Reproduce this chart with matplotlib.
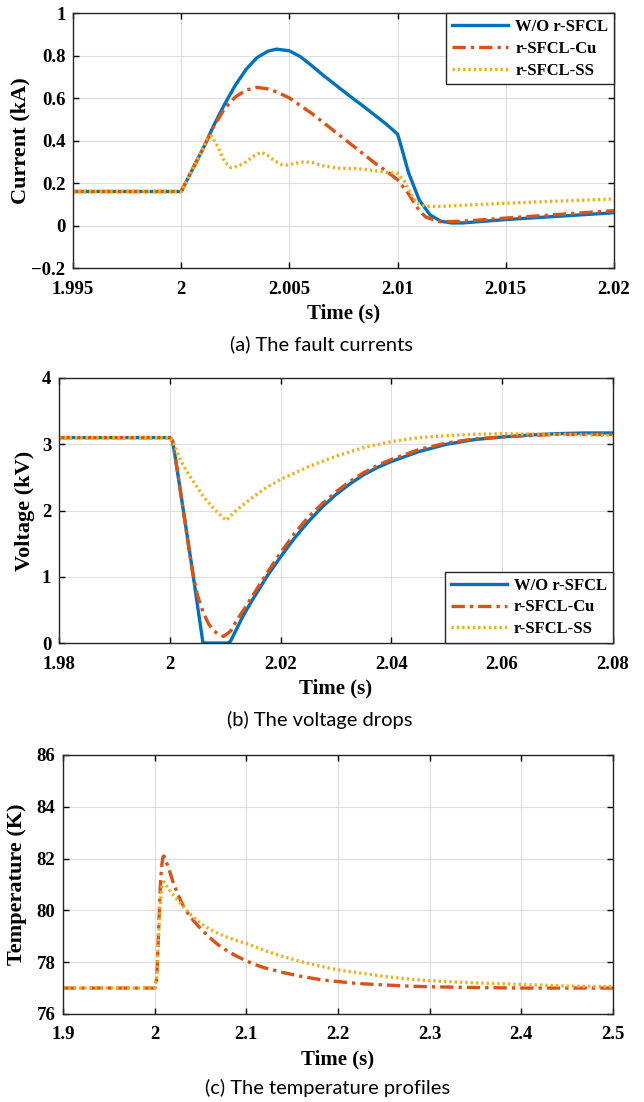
import matplotlib.pyplot as plt

# MATLAB default colours
c_blue = '#0072BD'
c_orange = '#D95319'
c_yellow = '#EDB120'

labels = ['W/O r-SFCL', 'r-SFCL-Cu', 'r-SFCL-SS']

# (a) fault currents (kA)
t_a_wo = [1.995, 2.0, 2.0005, 2.001, 2.0015, 2.002, 2.0025, 2.003, 2.0035, 2.004, 2.0044,
          2.005, 2.0055, 2.006, 2.0065, 2.007, 2.0075, 2.008, 2.0085, 2.009, 2.0095, 2.01,
          2.0102, 2.0105, 2.011, 2.0115, 2.012, 2.0125, 2.013, 2.015, 2.02]
i_a_wo = [0.16, 0.16, 0.26, 0.36, 0.47, 0.57, 0.66, 0.735, 0.79, 0.82, 0.83,
          0.822, 0.795, 0.755, 0.712, 0.672, 0.632, 0.593, 0.555, 0.515, 0.475, 0.43,
          0.36, 0.25, 0.12, 0.05, 0.02, 0.012, 0.012, 0.028, 0.06]
t_a_cu = [1.995, 2.0, 2.0005, 2.001, 2.0015, 2.002, 2.0025, 2.003, 2.0035, 2.004, 2.0045,
          2.005, 2.0055, 2.006, 2.007, 2.008, 2.009, 2.0095, 2.01, 2.0105, 2.011, 2.0113,
          2.0118, 2.012, 2.013, 2.015, 2.02]
i_a_cu = [0.16, 0.16, 0.26, 0.36, 0.465, 0.55, 0.605, 0.637, 0.65, 0.643, 0.625,
          0.60, 0.565, 0.53, 0.45, 0.37, 0.29, 0.255, 0.215, 0.15, 0.07, 0.04,
          0.022, 0.018, 0.02, 0.035, 0.07]
t_a_ss = [1.995, 2.0, 2.0005, 2.001, 2.0012, 2.0014, 2.0017, 2.002, 2.0023, 2.0026,
          2.003, 2.0034, 2.0037, 2.004, 2.0043, 2.0046, 2.0049, 2.0053, 2.0057, 2.0061,
          2.0066, 2.0072, 2.008, 2.0085, 2.009, 2.0095, 2.01, 2.0103, 2.0106, 2.0109,
          2.0113, 2.012, 2.013, 2.015, 2.02]
i_a_ss = [0.16, 0.16, 0.26, 0.36, 0.41, 0.42, 0.37, 0.30, 0.272, 0.278,
          0.30, 0.33, 0.345, 0.33, 0.305, 0.288, 0.285, 0.293, 0.30, 0.295,
          0.28, 0.27, 0.268, 0.264, 0.257, 0.25, 0.245, 0.21, 0.15, 0.105,
          0.09, 0.09, 0.095, 0.105, 0.125]

# (b) voltage drops (kV)
t_b_wo = [1.98, 2.0, 2.0005, 2.001, 2.002, 2.003, 2.004, 2.005, 2.006, 2.0105, 2.011,
          2.012, 2.013, 2.014, 2.015, 2.0175, 2.02, 2.0225, 2.025, 2.0275, 2.03, 2.0325,
          2.035, 2.0375, 2.04, 2.045, 2.05, 2.055, 2.06, 2.065, 2.07, 2.075, 2.08]
v_b_wo = [3.1, 3.1, 3.05, 2.8, 2.25, 1.7, 1.15, 0.57, 0.0, 0.0, 0.03,
          0.2, 0.37, 0.52, 0.66, 1.0, 1.3, 1.58, 1.83, 2.05, 2.24, 2.4,
          2.54, 2.65, 2.74, 2.89, 3.0, 3.07, 3.11, 3.14, 3.16, 3.17, 3.17]
t_b_cu = [1.98, 2.0, 2.0005, 2.001, 2.002, 2.003, 2.004, 2.005, 2.006, 2.007, 2.008,
          2.009, 2.0097, 2.011, 2.012, 2.0135, 2.015, 2.0175, 2.02, 2.0225, 2.025, 2.0275,
          2.03, 2.0325, 2.035, 2.0375, 2.04, 2.045, 2.05, 2.055, 2.06, 2.065, 2.07, 2.08]
v_b_cu = [3.1, 3.1, 3.05, 2.8, 2.25, 1.68, 1.12, 0.72, 0.47, 0.29, 0.18,
          0.12, 0.1, 0.18, 0.33, 0.52, 0.72, 1.05, 1.36, 1.65, 1.9, 2.1,
          2.28, 2.44, 2.57, 2.68, 2.77, 2.92, 3.02, 3.08, 3.11, 3.13, 3.15, 3.15]
t_b_ss = [1.98, 2.0, 2.0005, 2.001, 2.002, 2.003, 2.004, 2.006, 2.008, 2.0102, 2.011,
          2.012, 2.013, 2.015, 2.0175, 2.02, 2.025, 2.03, 2.035, 2.04, 2.045, 2.05,
          2.055, 2.06, 2.07, 2.08]
v_b_ss = [3.1, 3.1, 3.05, 2.95, 2.75, 2.6, 2.47, 2.22, 2.02, 1.85, 1.92,
          2.0, 2.07, 2.2, 2.35, 2.47, 2.66, 2.82, 2.95, 3.04, 3.1, 3.13,
          3.15, 3.16, 3.15, 3.13]

# (c) temperature profiles (K)
t_c_cu = [1.9, 2.0, 2.001, 2.002, 2.003, 2.004, 2.005, 2.006, 2.007, 2.008, 2.009, 2.01,
          2.011, 2.013, 2.016, 2.02, 2.025, 2.03, 2.035, 2.04, 2.045, 2.05, 2.06, 2.07,
          2.08, 2.09, 2.1, 2.11, 2.12, 2.14, 2.16, 2.18, 2.2, 2.22, 2.25, 2.28, 2.3,
          2.35, 2.4, 2.5]
k_c_cu = [77, 77, 77.05, 77.3, 77.9, 78.9, 79.9, 80.8, 81.4, 81.8, 82.05, 82.1,
          82.05, 81.85, 81.55, 81.1, 80.65, 80.25, 79.95, 79.7, 79.5, 79.3, 78.95, 78.65,
          78.42, 78.22, 78.05, 77.9, 77.78, 77.6, 77.45, 77.33, 77.25, 77.18, 77.12, 77.07, 77.05,
          77.02, 77.0, 77.0]
t_c_ss = [1.9, 2.0, 2.002, 2.003, 2.004, 2.005, 2.006, 2.007, 2.008, 2.009, 2.01, 2.012,
          2.015, 2.02, 2.025, 2.03, 2.035, 2.04, 2.05, 2.06, 2.07, 2.08, 2.09, 2.1,
          2.12, 2.14, 2.16, 2.18, 2.2, 2.22, 2.25, 2.28, 2.3, 2.35, 2.4, 2.45, 2.5]
k_c_ss = [77, 77, 77.4, 78.0, 78.8, 79.5, 80.1, 80.6, 80.9, 81.05, 81.1, 81.0,
          80.85, 80.6, 80.4, 80.2, 80.0, 79.82, 79.5, 79.27, 79.1, 78.95, 78.83, 78.72,
          78.45, 78.22, 78.02, 77.85, 77.7, 77.6, 77.45, 77.34, 77.28, 77.2, 77.14, 77.08, 77.05]

serif = 'Liberation Serif'
tick_fs = 13.5

fig = plt.figure(figsize=(6.44, 11.02), dpi=100)


def style_axes(ax, xlim, ylim, xticks, yticks, xticklabels, yticklabels, ylabel, ylab_x):
    ax.set_xlim(xlim)
    ax.set_ylim(ylim)
    ax.set_xticks(xticks)
    ax.set_yticks(yticks)
    ax.set_xticklabels(xticklabels)
    ax.set_yticklabels(yticklabels)
    ax.grid(True, color='#dedede', linewidth=0.8)
    ax.set_axisbelow(True)
    ax.tick_params(direction='in', top=True, right=True, length=4, width=1,
                   labelsize=tick_fs)
    ax.tick_params(axis='x', pad=9)
    ax.tick_params(axis='y', pad=5.5)
    for lab in ax.get_xticklabels() + ax.get_yticklabels():
        lab.set_fontfamily(serif)
        lab.set_fontweight('bold')
    for sp in ax.spines.values():
        sp.set_linewidth(1.0)
        sp.set_color('#262626')
    ax.set_xlabel('Time (s)', fontfamily=serif, fontweight='bold', fontsize=15, labelpad=4)
    ax.set_ylabel(ylabel, fontfamily=serif, fontweight='bold', fontsize=16)
    ax.yaxis.set_label_coords(ylab_x, 0.5)


def add_legend(ax, loc):
    leg = ax.legend(labels, loc=loc, fancybox=False, framealpha=1,
                    edgecolor='#262626', borderaxespad=0, handlelength=3.4,
                    labelspacing=0.35, handletextpad=0.4, borderpad=0.35,
                    prop={'family': serif, 'weight': 'bold', 'size': 12})
    leg.get_frame().set_linewidth(1.0)


dashdot = (0, (4, 1.5, 1, 1.5))
dotted = (0, (0.7, 0.9))

# (a)
ax1 = fig.add_axes([0.1134, 0.7568, 0.840, 0.2314])
ax1.plot(t_a_wo, i_a_wo, color=c_blue, lw=2.4)
ax1.plot(t_a_cu, i_a_cu, color=c_orange, lw=2.4, linestyle=dashdot)
ax1.plot(t_a_ss, i_a_ss, color=c_yellow, lw=2.4, linestyle=dotted)
style_axes(ax1, (1.995, 2.02), (-0.2, 1.0), [1.995, 2.0, 2.005, 2.01, 2.015, 2.02],
           [-0.2, 0, 0.2, 0.4, 0.6, 0.8, 1.0],
           ['1.995', '2', '2.005', '2.01', '2.015', '2.02'],
           ['\u22120.2', '0', '0.2', '0.4', '0.6', '0.8', '1'], 'Current (kA)', -0.078)
add_legend(ax1, 'upper right')
fig.text(0.4985, 0.6878, '(a) The fault currents', ha='center', va='center',
         fontfamily='Lato', fontsize=14.5)

# (b)
ax2 = fig.add_axes([0.0916, 0.4165, 0.860, 0.2405])
ax2.plot(t_b_wo, v_b_wo, color=c_blue, lw=2.4)
ax2.plot(t_b_cu, v_b_cu, color=c_orange, lw=2.4, linestyle=dashdot)
ax2.plot(t_b_ss, v_b_ss, color=c_yellow, lw=2.4, linestyle=dotted)
style_axes(ax2, (1.98, 2.08), (0, 4), [1.98, 2.0, 2.02, 2.04, 2.06, 2.08],
           [0, 1, 2, 3, 4],
           ['1.98', '2', '2.02', '2.04', '2.06', '2.08'],
           ['0', '1', '2', '3', '4'], 'Voltage (kV)', -0.044)
add_legend(ax2, 'lower right')
fig.text(0.497, 0.3466, '(b) The voltage drops', ha='center', va='center',
         fontfamily='Lato', fontsize=14.5)

# (c)
ax3 = fig.add_axes([0.0978, 0.0799, 0.854, 0.235])
ax3.plot(t_c_cu, k_c_cu, color=c_orange, lw=2.4, linestyle=dashdot)
ax3.plot(t_c_ss, k_c_ss, color=c_yellow, lw=2.4, linestyle=dotted)
style_axes(ax3, (1.9, 2.5), (76, 86), [1.9, 2.0, 2.1, 2.2, 2.3, 2.4, 2.5],
           [76, 78, 80, 82, 84, 86],
           ['1.9', '2', '2.1', '2.2', '2.3', '2.4', '2.5'],
           ['76', '78', '80', '82', '84', '86'], 'Temperature (K)', -0.065)
fig.text(0.508, 0.0127, '(c) The temperature profiles', ha='center', va='center',
         fontfamily='Lato', fontsize=14.5)

fig.savefig('out.png', dpi=100)
